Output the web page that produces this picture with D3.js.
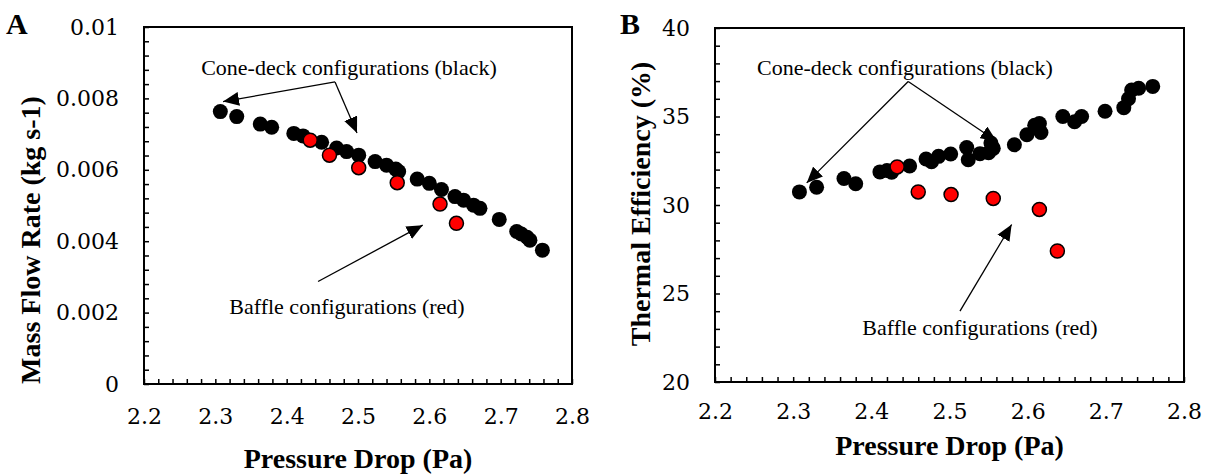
<!DOCTYPE html>
<html>
<head>
<meta charset="utf-8">
<script src="https://cdn.jsdelivr.net/npm/d3@7"></script>
<style>
  body { margin: 0; background: #fff; }
  text { fill: #000; }
  .tick-label { font-family: "DejaVu Serif", serif; font-size: 22px; }
  .axis-title { font-family: "Liberation Serif", serif; font-weight: bold; font-size: 28px; }
  .letter { font-family: "Liberation Serif", serif; font-weight: bold; font-size: 30px; }
  .note { font-family: "Liberation Serif", serif; font-size: 22px; }
</style>
</head>
<body>
<div id="chart"></div>
<script>
// panel A: mass flow rate vs pressure drop
var coneDropA = [2.307, 2.330, 2.363, 2.379, 2.410, 2.423, 2.449, 2.470, 2.484, 2.501, 2.524, 2.540, 2.553, 2.557, 2.583, 2.600, 2.617, 2.636, 2.648, 2.662, 2.671, 2.698, 2.7225, 2.729, 2.737, 2.741, 2.7585];
var coneFlowA = [0.00763, 0.00749, 0.00728, 0.00719, 0.00702, 0.00695, 0.00677, 0.00661, 0.00651, 0.00641, 0.00623, 0.00613, 0.00602, 0.00595, 0.00574, 0.00562, 0.00545, 0.00525, 0.00515, 0.00501, 0.00492, 0.00461, 0.00427, 0.00420, 0.00411, 0.00403, 0.00375];
var baffleDropA = [2.433, 2.460, 2.501, 2.555, 2.615, 2.638];
var baffleFlowA = [0.00683, 0.00641, 0.00606, 0.00564, 0.00504, 0.00450];

// panel B: thermal efficiency vs pressure drop
var coneDropB = [2.308, 2.330, 2.365, 2.380, 2.411, 2.420, 2.426, 2.449, 2.470, 2.477, 2.486, 2.5015, 2.522, 2.524, 2.539, 2.550, 2.556, 2.553, 2.583, 2.599, 2.609, 2.615, 2.617, 2.645, 2.660, 2.669, 2.699, 2.723, 2.729, 2.733, 2.742, 2.760];
var coneEffB = [30.74, 31.0, 31.5, 31.2, 31.87, 31.95, 31.85, 32.2, 32.6, 32.45, 32.75, 32.88, 33.25, 32.56, 32.9, 32.95, 33.2, 33.5, 33.4, 33.97, 34.5, 34.6, 34.1, 35.0, 34.7, 35.0, 35.3, 35.5, 36.0, 36.5, 36.6, 36.7];
var baffleDropB = [2.433, 2.460, 2.502, 2.556, 2.615, 2.638];
var baffleEffB = [32.15, 30.74, 30.59, 30.37, 29.75, 27.40];

var xTicks = [2.2, 2.3, 2.4, 2.5, 2.6, 2.7, 2.8];
var yTicksA = [0, 0.002, 0.004, 0.006, 0.008, 0.01];
var yTicksB = [20, 25, 30, 35, 40];

var svg = d3.select("#chart").append("svg")
  .attr("width", 1209)
  .attr("height", 475);

var defs = svg.append("defs");
defs.append("marker")
  .attr("id", "head")
  .attr("markerUnits", "userSpaceOnUse")
  .attr("markerWidth", 18)
  .attr("markerHeight", 14)
  .attr("refX", 16)
  .attr("refY", 7)
  .attr("orient", "auto")
  .append("path")
  .attr("d", "M0,0 L16,7 L0,14 Z")
  .attr("fill", "#000");

function drawPanel(p) {
  var g = svg.append("g");
  var x = d3.scaleLinear().domain([2.2, 2.8]).range([p.left, p.right]);
  var y = d3.scaleLinear().domain(p.yDomain).range([p.bottom, p.top]);

  // minor ticks pointing inward
  var xMinor = d3.range(0, 31).map(function(i) { return 2.2 + i * 0.02; });
  var yStep = (p.yDomain[1] - p.yDomain[0]) / p.yMinorCount;
  var yMinor = d3.range(0, p.yMinorCount + 1).map(function(i) { return p.yDomain[0] + i * yStep; });

  g.append("g")
    .attr("transform", "translate(0," + p.bottom + ")")
    .call(d3.axisBottom(x).tickValues(xMinor).tickSize(-5).tickFormat(""))
    .call(function(a) { a.select(".domain").remove(); a.selectAll("line").attr("stroke-width", 1.5); });

  g.append("g")
    .attr("transform", "translate(" + p.left + ",0)")
    .call(d3.axisLeft(y).tickValues(yMinor).tickSize(-5).tickFormat(""))
    .call(function(a) { a.select(".domain").remove(); a.selectAll("line").attr("stroke-width", 1.5); });

  // frame
  g.append("rect")
    .attr("x", p.left).attr("y", p.top)
    .attr("width", p.right - p.left).attr("height", p.bottom - p.top)
    .attr("fill", "none").attr("stroke", "#000").attr("stroke-width", 2);

  // tick labels
  g.append("g")
    .attr("transform", "translate(0," + p.bottom + ")")
    .call(d3.axisBottom(x).tickValues(xTicks).tickSize(0).tickPadding(p.xPad).tickFormat(d3.format(".1f")))
    .call(function(a) { a.select(".domain").remove(); a.selectAll("text").attr("class", "tick-label").attr("fill", "#000"); });

  g.append("g")
    .attr("transform", "translate(" + p.left + ",0)")
    .call(d3.axisLeft(y).tickValues(p.yTicks).tickSize(0).tickPadding(25).tickFormat(p.yFormat))
    .call(function(a) { a.select(".domain").remove(); a.selectAll("text").attr("class", "tick-label").attr("fill", "#000"); });

  // axis titles
  g.append("text")
    .attr("class", "axis-title")
    .attr("text-anchor", "middle")
    .attr("x", (p.left + p.right) / 2)
    .attr("y", p.xTitleY)
    .text("Pressure Drop (Pa)");

  g.append("text")
    .attr("class", "axis-title")
    .attr("text-anchor", "middle")
    .attr("transform", "translate(" + p.yTitleX + "," + p.yTitleMid + ") rotate(-90)")
    .text(p.yTitle);

  g.append("text")
    .attr("class", "letter")
    .attr("x", p.letterX).attr("y", 34)
    .text(p.letter);

  // points
  g.selectAll(".cone").data(d3.zip(p.coneX, p.coneY)).enter()
    .append("circle")
    .attr("cx", function(d) { return x(d[0]); })
    .attr("cy", function(d) { return y(d[1]); })
    .attr("r", 7.5)
    .attr("fill", "#000");

  g.selectAll(".baffle").data(d3.zip(p.baffleX, p.baffleY)).enter()
    .append("circle")
    .attr("cx", function(d) { return x(d[0]); })
    .attr("cy", function(d) { return y(d[1]); })
    .attr("r", 7)
    .attr("fill", "#ff0000")
    .attr("stroke", "#000")
    .attr("stroke-width", 1.5);

  // annotations
  p.notes.forEach(function(n) {
    g.append("text")
      .attr("class", "note")
      .attr("text-anchor", "middle")
      .attr("x", x(n.at[0])).attr("y", y(n.at[1]))
      .text(n.label);
    n.arrows.forEach(function(a) {
      g.append("line")
        .attr("x1", x(a[0][0])).attr("y1", y(a[0][1]))
        .attr("x2", x(a[1][0])).attr("y2", y(a[1][1]))
        .attr("stroke", "#000").attr("stroke-width", 1.3)
        .attr("marker-end", "url(#head)");
    });
  });
}

drawPanel({
  left: 144, right: 572, top: 27, bottom: 384,
  yDomain: [0, 0.01], yMinorCount: 25, yTicks: yTicksA,
  yFormat: function(d) { return d === 0 ? "0" : d3.format(".3~f")(d); },
  xPad: 24, xTitleY: 468, yTitleX: 40, yTitleMid: 240,
  yTitle: "Mass Flow Rate (kg s-1)", letter: "A", letterX: 6,
  coneX: coneDropA, coneY: coneFlowA, baffleX: baffleDropA, baffleY: baffleFlowA,
  notes: [
    { label: "Cone-deck configurations (black)", at: [2.4874, 0.00866],
      arrows: [[[2.4678, 0.00846], [2.3108, 0.00791]], [[2.4678, 0.00846], [2.4986, 0.00703]]] },
    { label: "Baffle configurations (red)", at: [2.4846, 0.00196],
      arrows: [[[2.444, 0.00287], [2.5907, 0.00445]]] }
  ]
});

drawPanel({
  left: 715, right: 1184, top: 28, bottom: 382,
  yDomain: [20, 40], yMinorCount: 20, yTicks: yTicksB,
  yFormat: d3.format("d"),
  xPad: 21, xTitleY: 455, yTitleX: 650, yTitleMid: 204,
  yTitle: "Thermal Efficiency (%)", letter: "B", letterX: 620,
  coneX: coneDropB, coneY: coneEffB, baffleX: baffleDropB, baffleY: baffleEffB,
  notes: [
    { label: "Cone-deck configurations (black)", at: [2.443, 37.35],
      arrows: [[[2.4472, 36.98], [2.3173, 31.25]], [[2.4472, 36.98], [2.5603, 33.6]]] },
    { label: "Baffle configurations (red)", at: [2.539, 22.65],
      arrows: [[[2.5134, 24.0], [2.5795, 28.9]]] }
  ]
});
</script>
</body>
</html>
